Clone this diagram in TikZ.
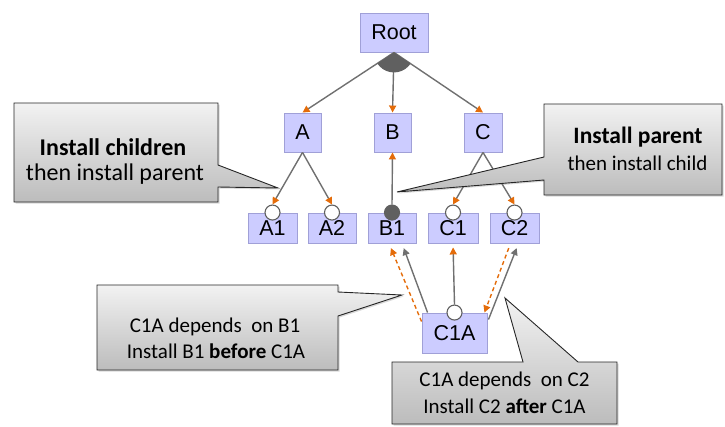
\documentclass[tikz,border=0pt]{standalone}
\usepackage{fontspec}
\setmainfont{Liberation Sans}
\newfontfamily\calloutfont{Carlito}
\usetikzlibrary{arrows.meta,calc,shadows}

\definecolor{boxfill}{RGB}{204,204,255}
\definecolor{boxline}{RGB}{160,160,215}
\definecolor{wire}{RGB}{112,112,112}
\definecolor{tipor}{RGB}{228,108,10}
\definecolor{knob}{RGB}{96,96,96}
\definecolor{calltop}{RGB}{242,242,242}
\definecolor{callbot}{RGB}{188,188,188}

\tikzset{
  feat/.style={draw=boxline, fill=boxfill, line width=0.9pt, inner sep=0pt,
    font=\fontsize{21.5}{24}\selectfont,
    drop shadow={shadow xshift=1.2pt, shadow yshift=-1.2pt, opacity=0.25}},
  optknob/.style={circle, draw=knob, fill=white, line width=1.1pt,
    minimum size=15pt, inner sep=0pt},
  mandknob/.style={optknob, fill=knob},
  edge/.style={draw=wire, line width=1.4pt},
  otip/.style={-{Triangle[length=7pt,width=7pt,color=tipor]}},
  gtip/.style={-{Triangle[length=7pt,width=7pt,color=wire]}},
  odash/.style={draw=tipor, line width=1.4pt, dash pattern=on 4pt off 3pt,
    -{Triangle[length=7pt,width=7pt]}},
  callout/.style={draw=black!85, line width=0.9pt, top color=calltop, bottom color=callbot,
    drop shadow={shadow xshift=1.5pt, shadow yshift=-1.5pt, opacity=0.3}},
  calltext/.style={anchor=base, inner sep=0pt, font=\calloutfont},
}

\begin{document}
\begin{tikzpicture}[x=1pt, y=-1pt]
\useasboundingbox (0,0) rectangle (725,426);

% feature boxes
\node[feat, minimum width=68pt, minimum height=39pt] (Root) at (394,32.5) {Root};
\node[feat, minimum width=37pt, minimum height=39pt] (A) at (302.5,132.5) {A};
\node[feat, minimum width=37pt, minimum height=39pt] (B) at (392.5,132.5) {B};
\node[feat, minimum width=38pt, minimum height=39pt] (C) at (483,132.5) {C};
\node[feat, minimum width=49pt, minimum height=30pt] (A1) at (272.5,228) {A1};
\node[feat, minimum width=48pt, minimum height=30pt] (A2) at (332,228) {A2};
\node[feat, minimum width=48pt, minimum height=30pt] (B1) at (392,228) {B1};
\node[feat, minimum width=50pt, minimum height=30pt] (C1) at (453,228) {C1};
\node[feat, minimum width=49pt, minimum height=30pt] (C2) at (514.5,228) {C2};
\node[feat, minimum width=65pt, minimum height=40pt] (C1A) at (454.5,333) {C1A};

% optional / mandatory markers
\node[optknob] (a1k) at (A1.north) {};
\node[optknob] (a2k) at (A2.north) {};
\node[mandknob] (b1k) at (B1.north) {};
\node[optknob] (c1k) at (C1.north) {};
\node[optknob] (c2k) at (C2.north) {};
\node[optknob] (c1ak) at (C1A.north) {};

% root group
\draw[edge, otip] (Root.south) -- (A.north);
\draw[edge, otip] (Root.south) -- (B.north);
\draw[edge, otip] (Root.south) -- (C.north);
\begin{scope}
  \clip (Root.south) -- (A.north) -- (C.north) -- cycle;
  \fill[knob] (Root.south) circle (20pt);
\end{scope}

% children
\draw[edge, otip] (A.south) -- (a1k.north);
\draw[edge, otip] (A.south) -- (a2k.north);
\draw[edge, otip] (b1k.north) -- (B.south);
\draw[edge, otip] (C.south) -- (c1k.north);
\draw[edge, otip] (C.south) -- (c2k.north);

% C1A links
\draw[edge, otip, shorten >=4pt] (c1ak.north) -- (C1.south);
\draw[edge, gtip, shorten >=5pt] ($(C1A.north west)+(6,0)$) -- ($(B1.south)+(10,0)$);
\draw[odash, tipor, shorten >=5pt] ($(C1A.north west)+(0,9)$) -- ($(B1.south)+(-3,0)$);
\draw[edge, gtip, shorten >=5pt] ($(C1A.north east)+(1,7)$) -- ($(C2.south)+(4,0)$);
\draw[odash, tipor, shorten <=5pt] ($(C2.south)+(-4,0)$) -- ($(C1A.north east)+(-3,0)$);

% callouts
\coordinate (tipL) at (278,188);
\coordinate (tipR) at (397,192);
\coordinate (tipBL) at (402,295);
\coordinate (tipBR) at (505,298);

\path[callout] (14,103) -- (218,103) -- (218,165) -- (tipL) -- (218,187)
  -- (218,202) -- (14,202) -- cycle;
\path[callout] (544,104) -- (722,104) -- (722,195) -- (544,195) -- (544,180)
  -- (tipR) -- (544,157) -- cycle;
\path[callout] (97,285) -- (338,285) -- (338,292) -- (tipBL) -- (338,316)
  -- (338,370) -- (97,370) -- cycle;
\path[callout] (392,362) -- (523,362) -- (tipBR) -- (578,362) -- (617,362)
  -- (617,424) -- (392,424) -- cycle;

\node[calltext, font=\calloutfont\bfseries\fontsize{24}{28}\selectfont] (tL1) at (113,155) {Install children};
\node[calltext, font=\calloutfont\fontsize{24}{28}\selectfont] (tL2) at (115,180) {then install parent};

\node[calltext, font=\calloutfont\bfseries\fontsize{23.5}{28}\selectfont] (tR1) at (638,143) {Install parent};
\node[calltext, font=\calloutfont\fontsize{21}{25}\selectfont] (tR2) at (637.5,170) {then install child};

\node[calltext, font=\calloutfont\fontsize{21}{25}\selectfont] (tBL1) at (215,332) {C1A depends\ \ on B1};
\node[calltext, font=\calloutfont\fontsize{21}{25}\selectfont] (tBL2) at (216,358) {Install B1 \textbf{before} C1A};

\node[calltext, font=\calloutfont\fontsize{21}{25}\selectfont] (tBR1) at (504.5,386) {C1A depends\ \ on C2};
\node[calltext, font=\calloutfont\fontsize{21}{25}\selectfont] (tBR2) at (504.5,413) {Install C2 \textbf{after} C1A};
\end{tikzpicture}
\end{document}
